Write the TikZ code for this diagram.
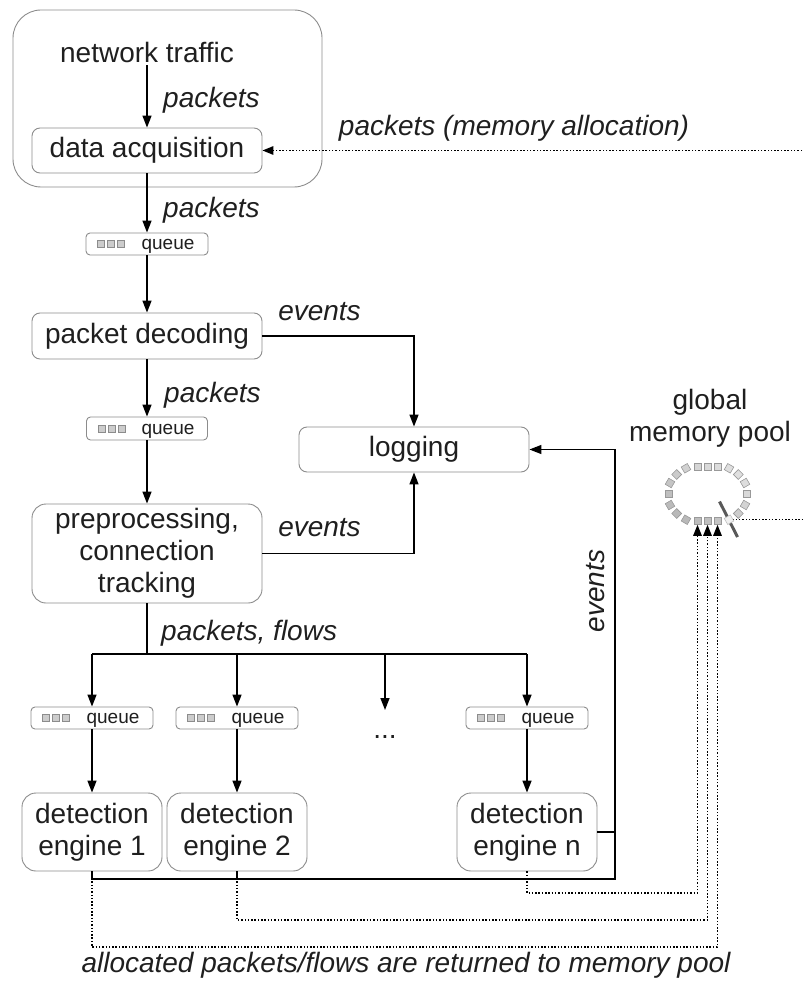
\documentclass[tikz,border=0pt]{standalone}
\usepackage{fontspec}
\setmainfont{Liberation Sans}
\usetikzlibrary{arrows.meta}

% three small slots and the word "queue" inside a queue node
\newcommand\queuemarks[1]{%
  \foreach \i in {0,1,2}
    \node[qsq] (#1s\i) at ([xshift={15.5+10*\i}]#1.west) {};
  \node[qtxt] (#1t) at ([shift={(21,2.5)}]#1.center) {queue};
}

\begin{document}
\begin{tikzpicture}[x=1pt,y=-1pt,
  txt/.style={font=\fontsize{28}{32}\selectfont, text=black!88, inner sep=0pt, align=center},
  lbl/.style={font=\fontsize{28}{32}\selectfont\itshape, text=black!88, inner sep=0pt},
  procbox/.style={txt, draw=black!45, line width=0.9pt, rounded corners=8pt, fill=white},
  engbox/.style={procbox, rounded corners=14pt, minimum width=140pt, minimum height=78pt},
  qbox/.style={draw=black!45, line width=0.9pt, rounded corners=4pt, fill=white,
               minimum width=122pt, minimum height=22pt, inner sep=0pt},
  qsq/.style={draw=black!45, fill=black!20, line width=0.6pt, minimum size=7pt, inner sep=0pt},
  qtxt/.style={font=\fontsize{19}{20}\selectfont, text=black!88, inner sep=0pt},
  flow/.style={draw=black, line width=1.5pt},
  arr/.style={flow, -{Triangle[length=12pt,width=9pt]}},
  ret/.style={draw=black, line width=1.4pt, dash pattern=on 1.5pt off 1.8pt},
  retarr/.style={ret, -{Triangle[length=11pt,width=8.5pt]}},
  poolsq/.style={draw=black!40, line width=0.6pt, minimum size=7pt, inner sep=0pt},
]
\useasboundingbox (0,0) rectangle (802,981);

% ---------- capture stage ----------
\node[draw=black!45, line width=0.9pt, rounded corners=28pt,
      minimum width=309pt, minimum height=177pt, inner sep=0pt] (sys) at (167.5,98.5) {};
\node[txt, inner sep=3pt] (traffic) at (147,52) {network traffic};
\node[procbox, minimum width=230pt, minimum height=45pt] (acq) at (147,150.5) {data acquisition};

% ---------- decoding and preprocessing ----------
\node[qbox] (q1) at (147,244) {};
\queuemarks{q1}
\node[procbox, minimum width=230pt, minimum height=46pt] (dec) at (147,336) {packet decoding};
\node[qbox, minimum width=121pt, minimum height=23pt] (q2) at (147,428.5) {};
\queuemarks{q2}
\node[procbox, minimum width=230pt, minimum height=99pt, rounded corners=14pt] (pre) at (147,553.5)
  {preprocessing,\\connection\\tracking};
\node[procbox, minimum width=230pt, minimum height=45pt] (log) at (414,449.5) {logging};

% ---------- detection engines ----------
\node[qbox] (qa) at (92,718) {};
\queuemarks{qa}
\node[qbox] (qb) at (237,718) {};
\queuemarks{qb}
\node[qbox] (qn) at (527,718) {};
\queuemarks{qn}
\node[txt] (dots) at (385,737) {...};
\node[engbox] (e1) at (92,832) {detection\\engine 1};
\node[engbox] (e2) at (237,832) {detection\\engine 2};
\node[engbox] (en) at (527,832) {detection\\engine n};

% ---------- main data path ----------
\draw[arr] (traffic.south) -- (acq.north);
\node[lbl, anchor=west] (lp1) at (163,100) {packets};
\draw[arr] (acq.south) -- (q1.north);
\node[lbl, anchor=west] (lp2) at (163,210) {packets};
\draw[arr] (q1.south) -- (dec.north);
\draw[arr] (dec.south) -- (q2.north);
\node[lbl, anchor=west] (lp3) at (164,395) {packets};
\draw[arr] (q2.south) -- (pre.north);

% ---------- events to logging ----------
\draw[arr] (dec.east) -| (log.north);
\node[lbl] (ev1) at (319.5,312) {events};
\draw[arr] (pre.east) -| (log.south);
\node[lbl] (ev2) at (319.5,528) {events};

% ---------- distribution to engines ----------
\coordinate (bus) at (147,654);
\coordinate (dtop) at (385,654);
\coordinate (dend) at (385,710);
\draw[flow] (pre.south) -- (bus);
\draw[flow] (qa.north |- bus) -- (qn.north |- bus);
\node[lbl, anchor=west] (lpf) at (161,633) {packets, flows};
\draw[arr] (qa.north |- bus) -- (qa.north);
\draw[arr] (qb.north |- bus) -- (qb.north);
\draw[arr] (qn.north |- bus) -- (qn.north);
\draw[arr] (dtop) -- (dend);
\draw[arr] (qa.south) -- (e1.north);
\draw[arr] (qb.south) -- (e2.north);
\draw[arr] (qn.south) -- (en.north);

% ---------- engine events back to logging ----------
\coordinate (ev) at (615,879);
\draw[arr] (e1.south) |- (ev) |- (log.east);
\draw[flow] (e2.south) -- (e2.south |- ev);
\draw[flow] (en.east) -- (en.east -| ev);
\node[lbl, rotate=90] (ev3) at (596,591) {events};

% ---------- global memory pool ----------
\node[txt] (pooltitle) at (710,418.5) {global\\memory pool};
\coordinate (pool) at (707.5,494);
\coordinate (redge) at (802,0);
\foreach \dx/\dy/\r [count=\k] in {
    -10/-27/0, 0/-27/0, 10/-27/0,
    -39/0/0, 39/0/0,
    -21.5/-25.7/30, -30.8/-19.5/45, -37.5/-11/60,
    21.5/-25.7/-30, 30.8/-19.5/-45, 37.5/-11/-60,
    -21.5/25.7/-30, -30.8/19.5/-45, -37.5/11/-60,
    30.8/19.5/45, 37.5/11/60}
{
  \pgfmathsetmacro\g{20-7*(\dx/39-\dy/27)/1.414}
  \node[poolsq, fill=black!\g, rotate=\r] (ps\k) at ([shift={(\dx,\dy)}]pool) {};
}
\node[poolsq, fill=black!26] (pbA) at ([shift={(-10,27)}]pool) {};
\node[poolsq, fill=black!25] (pbB) at ([shift={(0,27)}]pool) {};
\node[poolsq, fill=black!23] (pbC) at ([shift={(10,27)}]pool) {};

% slot taken out of the pool towards the capture stage
\coordinate (cutc) at (729,519.7);
\coordinate (slashtop) at (719.5,501.5);
\coordinate (slashbot) at (737.5,537);
\draw[ret] (cutc) -- (cutc -| redge);
\draw[line width=3pt, draw=black!65] (slashtop) -- (slashbot);
\node[poolsq, draw=black!25, fill=black!6, rotate=30] (pcut) at (cutc) {};

% allocation towards data acquisition
\coordinate (rin) at (802,151);
\draw[retarr] (rin |- acq.east) -- (acq.east);
\node[lbl] (lalloc) at (514,128) {packets (memory allocation)};

% packets and flows handed back to the pool
\coordinate (yn) at (0,893);
\coordinate (y2) at (0,920);
\coordinate (y1) at (0,947);
\draw[retarr] (en.south) |- (yn -| pbA.south) -- (pbA.south);
\draw[retarr] (e2.south) |- (y2 -| pbB.south) -- (pbB.south);
\draw[retarr] (e1.south) |- (y1 -| pbC.south) -- (pbC.south);
\node[lbl] (lret) at (406,965) {allocated packets/flows are returned to memory pool};

\end{tikzpicture}
\end{document}
